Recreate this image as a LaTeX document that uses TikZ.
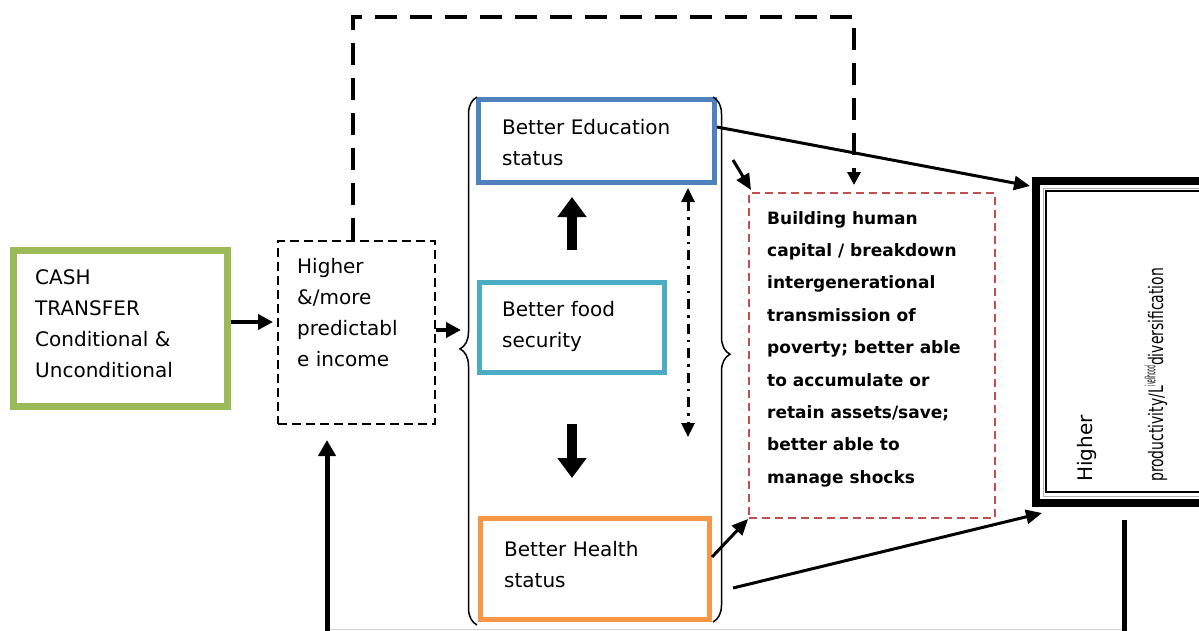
\documentclass[tikz,border=0pt]{standalone}
\usepackage{fontspec}
\usepackage{graphicx}
\setmainfont{DejaVu Sans}
\usetikzlibrary{arrows.meta,calc,decorations.pathreplacing}

\definecolor{cashgreen}{HTML}{9BBB59}
\definecolor{edublue}{HTML}{4F81BD}
\definecolor{foodcyan}{HTML}{4BACC6}
\definecolor{healthorange}{HTML}{F79646}
\definecolor{outred}{HTML}{C0504D}

\begin{document}
\begin{tikzpicture}[x=1pt,y=-1pt,
  framebox/.style={rectangle, inner sep=0pt},
  bodytext/.style={font=\fontsize{20}{31}\selectfont, align=left, anchor=north west, inner sep=0pt},
  boldtext/.style={font=\fontsize{17}{32.4}\selectfont\bfseries, align=left, anchor=north west, inner sep=0pt},
  sidetext/.style={font=\fontsize{20}{24}\selectfont, inner sep=0pt, rotate=90, anchor=base west},
  flow/.style={line width=4.5pt, -{Triangle[length=15pt,width=15pt]}},
  link/.style={line width=3pt, -{Triangle[length=16pt,width=14pt]}},
  blockarrow/.style={line width=10pt, -{Triangle[length=20pt,width=28pt]}},
  loopline/.style={line width=4pt, dash pattern=on 22pt off 13pt, -{Triangle[length=13pt,width=13pt]}},
  dashdot/.style={line width=3pt, dash pattern=on 10pt off 6pt on 2.5pt off 6pt,
    {Triangle[length=14pt,width=13pt]}-{Triangle[length=14pt,width=13pt]}},
  bracket/.style={line width=1.5pt, decorate, decoration={brace, amplitude=17pt, aspect=#1}}
]
\useasboundingbox (0,0) rectangle (1199,630);
\clip (0,0) rectangle (1199,630);

% boxes
\node[framebox, draw=cashgreen, line width=7pt, minimum width=214pt, minimum height=156pt] (cash) at (120.5,328.5) {};
\node[framebox, draw=black, line width=2pt, dash pattern=on 9pt off 5pt, minimum width=157pt, minimum height=183pt] (income) at (356.5,332.5) {};
\node[framebox, draw=edublue, line width=5pt, minimum width=236pt, minimum height=83pt] (edu) at (596.5,141) {};
\node[framebox, draw=foodcyan, line width=5pt, minimum width=185pt, minimum height=90pt] (food) at (572,327.5) {};
\node[framebox, draw=healthorange, line width=5pt, minimum width=229pt, minimum height=101pt] (health) at (595,569) {};
\node[framebox, draw=outred, line width=2pt, dash pattern=on 8pt off 5pt, minimum width=246pt, minimum height=325pt] (red) at (872,355.5) {};

% outcome frame: heavy outer rule, grey and thin black inner rules
\node[framebox, draw=black, line width=8pt, minimum width=179pt, minimum height=322pt] (big) at (1125.5,342) {};
\draw[gray!60, line width=1pt] (1043,188) rectangle (1215,496);
\draw[black, line width=1.5pt] (1046,191) rectangle (1215,492);

% texts
\node[bodytext] (cashtxt) at (35,262.3) {\strut CASH\\TRANSFER\\Conditional \&\\Unconditional};
\node[bodytext] (inctxt) at (297,251.3) {\strut Higher\\\&/more\\predictabl\\e income};
\node[bodytext] (edutxt) at (502,112.3) {\strut Better Education\\status};
\node[bodytext] (foodtxt) at (502,294.3) {\strut Better food\\security};
\node[bodytext] (healthtxt) at (504,534.3) {\strut Better Health\\status};
\node[boldtext] (redtxt) at (767,201.3) {\strut Building human\\capital / breakdown\\intergenerational\\transmission of\\poverty; better able\\to accumulate or\\retain assets/save;\\better able to\\manage shocks};
\node[sidetext] (bigtxtA) at (1092,482) {Higher};
\node[sidetext] (bigtxtB) at (1163,482)
  {\resizebox{214pt}{\height}{productivity/L\textsuperscript{\scalebox{0.45}[1]{ivelihood}}diversification}};

% braces
\draw[bracket=0.523] (477,625) -- (477,97);
\draw[bracket=0.49] (713,97) -- (713,622);
\coordinate (lbtip) at (461,330);

% flows
\draw[flow] ($(cash.east)+(0,-6.5)$) -- ($(income.west)+(-4,-10.5)$);
\draw[flow] ($(income.east)+(0,-2.5)$) -- (lbtip);
\draw[blockarrow] ($(food.north)+(0,-30)$) -- ($(edu.south)+(-24.5,12)$);
\draw[blockarrow] ($(food.south)+(0,49)$) -- ($(health.north)+(-23,-38)$);
\draw[dashdot] ($(edu.south)+(91.5,3)$) -- ($(food.south)+(116,62)$);

% feedback loop over the top
\coordinate (lt) at (353,17);
\coordinate (rt) at (854,17);
\draw[loopline, shorten >=7pt] (income.north -| lt) -- (lt) -- (rt) -- (red.north -| rt);

% links to the outcomes
\coordinate (eduout) at (733,160);
\coordinate (healthout) at (733,588);
\draw[link] ($(edu.east)+(0,-14)$) -- ($(big.north west)+(-2,9)$);
\draw[link] (eduout) -- ($(red.north west)+(3,-2)$);
\draw[link] ($(health.east)+(0,-12)$) -- (red.south west);
\draw[link] (healthout) -- ($(big.south west)+(10,6)$);

% return loop along the bottom
\coordinate (fbR) at (1124,642);
\coordinate (fbL) at (327,642);
\draw[gray!35, line width=1pt] (327,629.5) -- (1124,629.5);
\draw[line width=5pt, -{Triangle[length=16pt,width=17pt]}, shorten <=13pt, shorten >=15pt]
  (big.south -| fbR) -- (fbR) -- (fbL) -- (income.south -| fbL);
\end{tikzpicture}
\end{document}
